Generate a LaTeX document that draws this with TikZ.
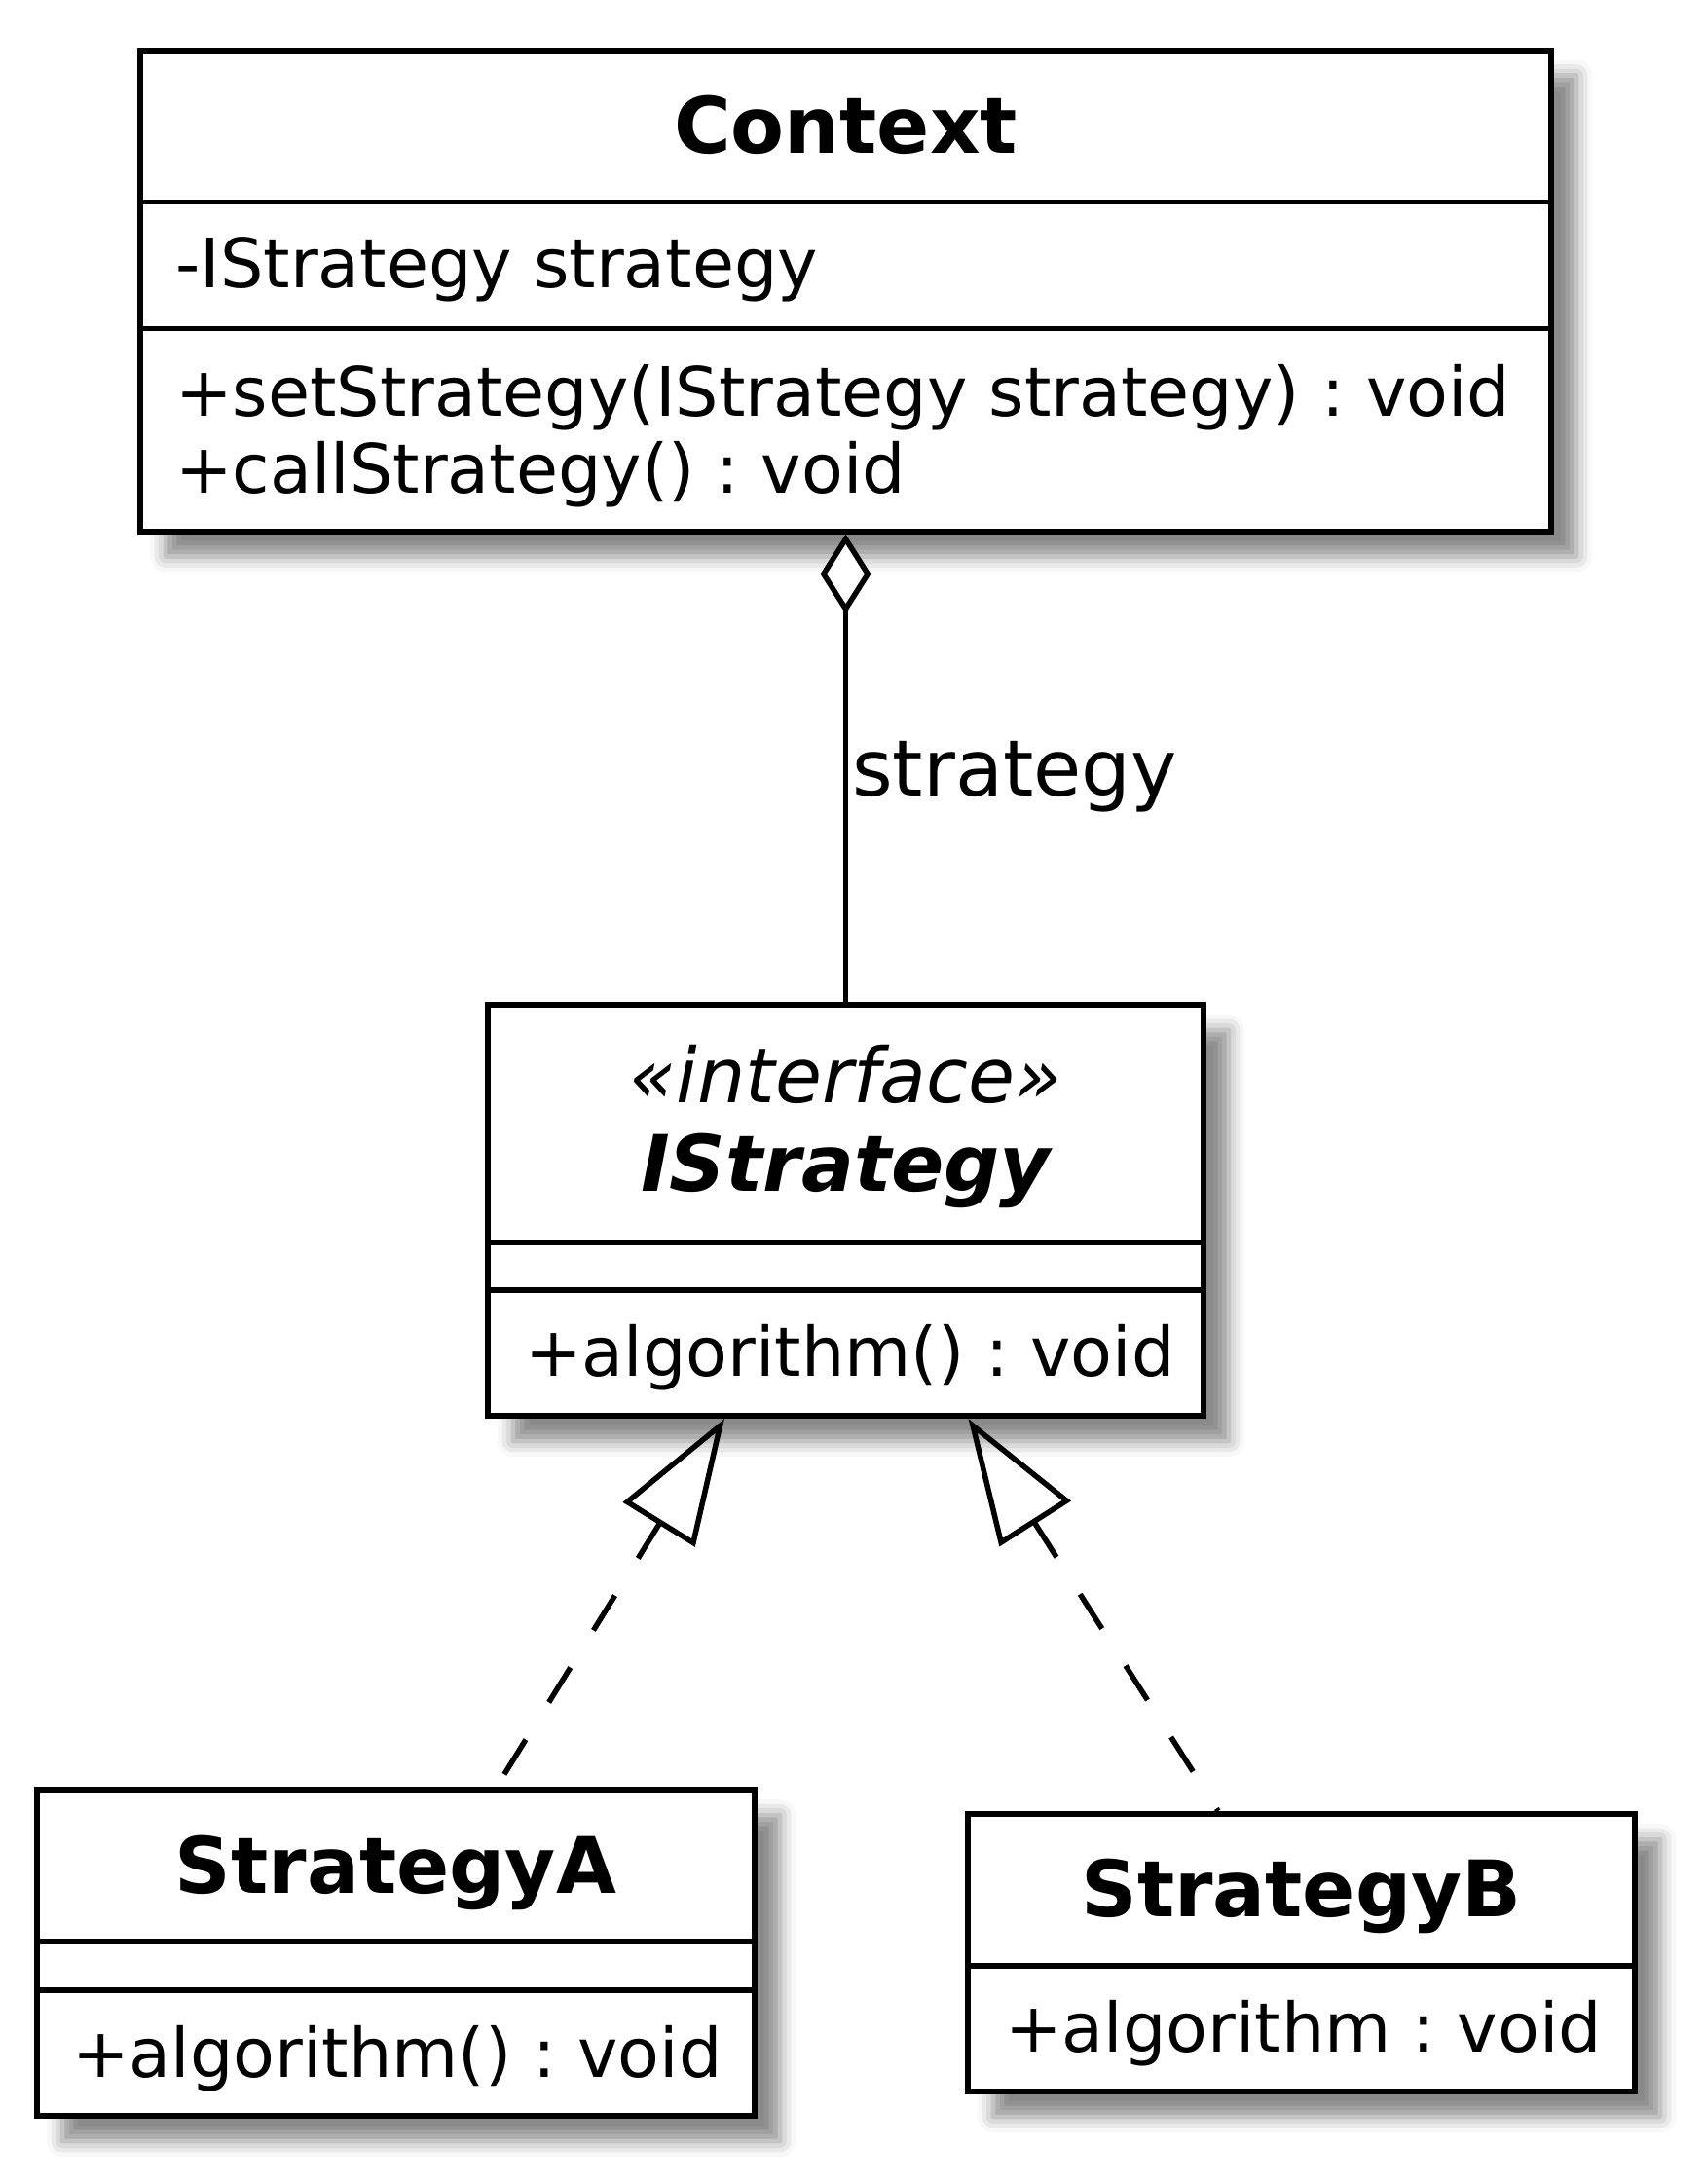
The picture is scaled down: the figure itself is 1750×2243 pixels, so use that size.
\documentclass[tikz,border=0pt]{standalone}
\usepackage{fontspec}
\setmainfont{DejaVu Sans}
\usepackage{tikz}
\usetikzlibrary{arrows.meta,positioning,calc,shadows.blur}
\frenchspacing

\tikzset{
  klass/.style={draw, line width=6pt, fill=white, inner sep=0pt,
    blur shadow={shadow xshift=26pt, shadow yshift=-26pt, shadow blur radius=16pt, shadow opacity=46}},
  sepline/.style={line width=5.5pt},
  member/.style={anchor=base west, inner sep=0pt, font=\fontsize{70}{84}\selectfont},
  kname/.style={anchor=base, inner sep=0pt, font=\fontsize{80}{96}\selectfont\bfseries},
  realize/.style={{Triangle[open, length=128pt, width=86pt]}-, line width=5.5pt, dash pattern=on 42pt off 45pt},
  aggr/.style={{Diamond[fill=white, length=82pt, width=52pt]}-, line width=5.5pt}
}

\begin{document}
\begin{tikzpicture}[x=1pt, y=-1pt]
\useasboundingbox (0,0) rectangle (1750,2243);

\node[klass, minimum width=1449pt, minimum height=494pt] (context) at (868.5,298.5) {};
\node[klass, minimum width=735pt, minimum height=422pt] (istrategy) at (868.5,1243) {};
\node[klass, minimum width=737pt, minimum height=335pt] (strategyA) at (406.5,2005.5) {};
\node[klass, minimum width=685pt, minimum height=285pt] (strategyB) at (1336.5,2005.5) {};

\draw[sepline] (context.west |- 0,207.5) -- (context.east |- 0,207.5);
\draw[sepline] (context.west |- 0,337.5) -- (context.east |- 0,337.5);
\draw[sepline] (istrategy.west |- 0,1276) -- (istrategy.east |- 0,1276);
\draw[sepline] (istrategy.west |- 0,1325) -- (istrategy.east |- 0,1325);
\draw[sepline] (strategyA.west |- 0,1994) -- (strategyA.east |- 0,1994);
\draw[sepline] (strategyA.west |- 0,2044) -- (strategyA.east |- 0,2044);
\draw[sepline] (strategyB.west |- 0,2019) -- (strategyB.east |- 0,2019);

\node[kname] (contextName) at (868.5,157) {Context};
\node[member] (contextAttr) at (180,295) {-IStrategy strategy};
\node[member] (contextSet) at (180,427) {+setStrategy(IStrategy strategy) : void};
\node[member] (contextCall) at (180,506) {+callStrategy() : void};

\node[kname, font=\fontsize{78}{94}\selectfont\itshape] (istrategyStereo) at (868.5,1132) {«interface»};
\node[kname, font=\fontsize{80}{96}\selectfont\bfseries\itshape] (istrategyName) at (868.5,1223) {IStrategy};
\node[member] (istrategyOp) at (539,1413) {+algorithm() : void};

\node[kname] (strategyAName) at (406.5,1944) {StrategyA};
\node[member] (strategyAOp) at (74,2133) {+algorithm() : void};

\node[kname] (strategyBName) at (1336.5,1968) {StrategyB};
\node[member] (strategyBOp) at (1032,2107) {+algorithm : void};

\draw[aggr] (context.south) -- (istrategy.north)
  node[pos=0.56, anchor=base west, inner sep=0pt, xshift=4pt, font=\fontsize{80}{96}\selectfont] (aggrLabel) {strategy};
\draw[realize] ([xshift=-124.5pt]istrategy.south) -- ([xshift=103.5pt]strategyA.north);
\draw[realize] ([xshift=126pt]istrategy.south) -- ([xshift=-85.5pt]strategyB.north);
\end{tikzpicture}
\end{document}
